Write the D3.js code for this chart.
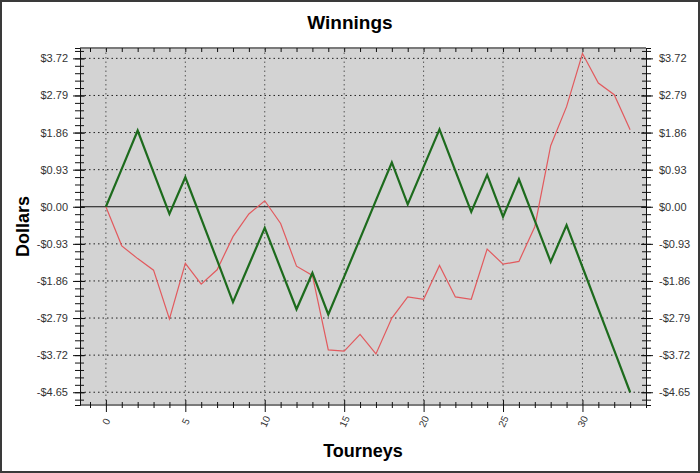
<!DOCTYPE html>
<meta charset="utf-8">
<script src="https://cdn.jsdelivr.net/npm/d3@7"></script>
<style>
  body { margin: 0; background: #fff; }
  text { font-family: "Liberation Sans", Arial, sans-serif; }
  .tick text { fill: #333; font-size: 11px; }
  .grid line { stroke: #222; stroke-dasharray: 1.5,3; stroke-width: 1px; }
</style>
<body>
<script>

// tourney index and running winnings per series
var tourneys = d3.range(0, 34);

var greenSeries = [0, 0.95, 1.91, 0.86, -0.18, 0.74, -0.30, -1.34, -2.39, -1.46,
                   -0.53, -1.55, -2.57, -1.66, -2.70, -1.75, -0.80, 0.16, 1.11, 0.06,
                   1.00, 1.94, 0.90, -0.13, 0.80, -0.25, 0.69, -0.35, -1.38, -0.46,
                   -1.51, -2.56, -3.60, -4.65];

var redSeries = [0, -0.98, -1.30, -1.59, -2.81, -1.42, -1.94, -1.58, -0.75, -0.18,
                 0.15, -0.42, -1.49, -1.72, -3.59, -3.62, -3.20, -3.69, -2.79, -2.26,
                 -2.32, -1.47, -2.26, -2.32, -1.06, -1.44, -1.37, -0.50, 1.53, 2.51,
                 3.84, 3.10, 2.81, 1.93];

var yTicks = [-4.65, -3.72, -2.79, -1.86, -0.93, 0, 0.93, 1.86, 2.79, 3.72];
var xTicks = [0, 5, 10, 15, 20, 25, 30];

var width = 700,
    height = 473,
    pLeft = 80, pRight = 646, pTop = 48, pBottom = 405;

var svg = d3.select("body").append("svg")
    .attr("width", width)
    .attr("height", height);

// outer frame
svg.append("rect")
    .attr("x", 1).attr("y", 1)
    .attr("width", width - 2).attr("height", height - 2)
    .attr("fill", "#fff")
    .attr("stroke", "#3a3a3a")
    .attr("stroke-width", 2);

var x = d3.scaleLinear().domain([-1.63, 34.0]).range([pLeft, pRight]);
var y = d3.scaleLinear().domain([-4.97, 3.98]).range([pBottom, pTop]);

// plot background
svg.append("rect")
    .attr("x", pLeft).attr("y", pTop)
    .attr("width", pRight - pLeft).attr("height", pBottom - pTop)
    .attr("fill", "#d3d3d3");

// grid
var grid = svg.append("g").attr("class", "grid");
grid.selectAll(".h").data(yTicks.filter(function(d) { return d != 0; }))
  .enter().append("line")
    .attr("x1", pLeft).attr("x2", pRight)
    .attr("y1", function(d) { return y(d); })
    .attr("y2", function(d) { return y(d); });
grid.selectAll(".v").data(xTicks)
  .enter().append("line")
    .attr("y1", pTop).attr("y2", pBottom)
    .attr("x1", function(d) { return x(d); })
    .attr("x2", function(d) { return x(d); })
    .style("stroke", "#555");

// zero line
svg.append("line")
    .attr("x1", pLeft).attr("x2", pRight)
    .attr("y1", y(0)).attr("y2", y(0))
    .attr("stroke", "#111").attr("stroke-width", 1);

// frame lines
svg.append("line").attr("x1", pLeft).attr("x2", pRight).attr("y1", pTop).attr("y2", pTop)
    .attr("stroke", "#7a7a7a").attr("stroke-width", 2);
svg.append("line").attr("x1", pLeft).attr("x2", pRight).attr("y1", pBottom).attr("y2", pBottom)
    .attr("stroke", "#7a7a7a").attr("stroke-width", 2);

var fmt = function(d) {
  if (Math.abs(d) < 1e-9) return "$0.00";
  return (d < 0 ? "-$" : "$") + Math.abs(d).toFixed(2);
};

var yMinor = d3.range(-26, 22).map(function(k) { return k * 0.186; })
    .filter(function(d) { return d >= -4.97 && d <= 3.98; });
var xMinor = d3.range(-1, 35);

// left axis
var gl = svg.append("g").attr("transform", "translate(" + pLeft + ",0)");
gl.call(d3.axisLeft(y).tickValues(yMinor).tickSize(5).tickFormat(""));
gl.selectAll(".tick line").attr("x1", 4).attr("stroke", "#111");
gl.select(".domain").attr("stroke", "#111");
var glm = svg.append("g").attr("transform", "translate(" + pLeft + ",0)");
glm.call(d3.axisLeft(y).tickValues(yTicks).tickSize(7).tickPadding(5).tickFormat(fmt));
glm.selectAll(".tick line").attr("x1", 5).attr("stroke", "#111");
glm.select(".domain").remove();

// right axis
var gr = svg.append("g").attr("transform", "translate(" + pRight + ",0)");
gr.call(d3.axisRight(y).tickValues(yMinor).tickSize(5).tickFormat(""));
gr.selectAll(".tick line").attr("x1", -4).attr("stroke", "#111");
gr.select(".domain").attr("stroke", "#111");
var grm = svg.append("g").attr("transform", "translate(" + pRight + ",0)");
grm.call(d3.axisRight(y).tickValues(yTicks).tickSize(7).tickPadding(6).tickFormat(fmt));
grm.selectAll(".tick line").attr("x1", -5).attr("stroke", "#111");
grm.select(".domain").remove();

// bottom axis
var gb = svg.append("g").attr("transform", "translate(0," + pBottom + ")");
gb.call(d3.axisBottom(x).tickValues(xMinor.filter(function(d) { return d % 5 != 0; }))
    .tickSize(3).tickFormat(""));
gb.selectAll(".tick line").attr("y1", -3).attr("stroke", "#111");
gb.select(".domain").remove();
var gbm = svg.append("g").attr("transform", "translate(0," + pBottom + ")");
gbm.call(d3.axisBottom(x).tickValues(xTicks).tickSize(7).tickFormat(d3.format("d")));
gbm.selectAll(".tick line").attr("y1", -5).attr("stroke", "#111");
gbm.select(".domain").remove();
gbm.selectAll(".tick text")
    .attr("y", 0).attr("dy", 0)
    .attr("transform", "translate(3,18) rotate(-65)")
    .style("text-anchor", "middle")
    .style("font-size", "10px");

// top axis
var gt = svg.append("g").attr("transform", "translate(0," + pTop + ")");
gt.call(d3.axisBottom(x).tickValues(xMinor).tickSize(4).tickFormat(""));
gt.selectAll(".tick line").attr("stroke", "#111");
gt.select(".domain").remove();

// series
var line = d3.line()
    .x(function(d, i) { return x(tourneys[i]); })
    .y(function(d) { return y(d); });

svg.append("path")
    .datum(redSeries)
    .attr("d", line)
    .attr("fill", "none")
    .attr("stroke", "#e25a5e")
    .attr("stroke-width", 1.2);

svg.append("path")
    .datum(greenSeries)
    .attr("d", line)
    .attr("fill", "none")
    .attr("stroke", "#1d6b1d")
    .attr("stroke-width", 2.2);

// titles
svg.append("text")
    .attr("x", 350).attr("y", 29)
    .attr("text-anchor", "middle")
    .style("font-weight", 700).style("font-size", "19px")
    .text("Winnings");

svg.append("text")
    .attr("transform", "translate(29," + ((pTop + pBottom) / 2) + ") rotate(-90)")
    .attr("text-anchor", "middle")
    .style("font-weight", 700).style("font-size", "18px")
    .text("Dollars");

svg.append("text")
    .attr("x", (pLeft + pRight) / 2).attr("y", 457)
    .attr("text-anchor", "middle")
    .style("font-weight", 700).style("font-size", "18px")
    .text("Tourneys");

</script>
</body>
